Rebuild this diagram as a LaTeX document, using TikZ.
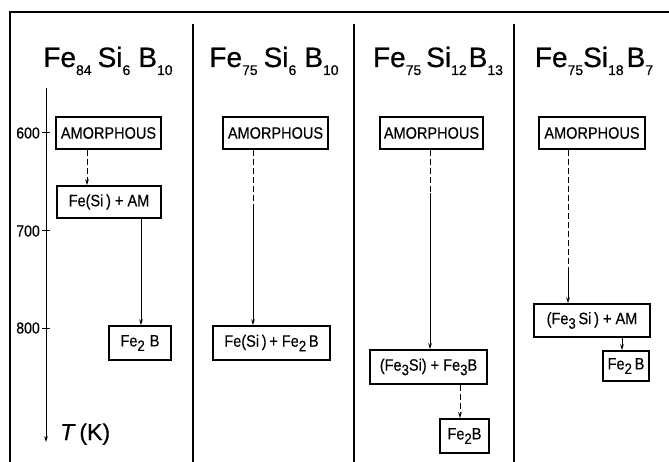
\documentclass[tikz,border=0pt]{standalone}
\usepackage{fontspec}
\setmainfont{Liberation Sans}
\newfontfamily\condf[FakeStretch=0.88,FakeBold=0.4]{Liberation Sans}
\newfontfamily\titlef[FakeBold=0.6]{Liberation Sans}
\usetikzlibrary{arrows.meta}
\tikzset{
 box/.style={draw, line width=1.6pt, inner sep=0pt, font=\condf\fontsize{16.5}{17}\selectfont},
 conn/.style={line width=1pt},
 arr/.style={-{Stealth[length=6pt,width=3.6pt]}},
 dsh/.style={dash pattern=on 6pt off 3pt},
 frame/.style={line width=1.6pt},
 title/.style={font=\titlef\fontsize{28}{28}\selectfont, anchor=base, inner sep=0pt},
 lbl/.style={font=\condf\fontsize{16}{16}\selectfont, anchor=east, inner sep=0pt},
}
\newcommand\tsub[1]{\raisebox{-8pt}{\fontsize{14}{14}\selectfont #1}}
\newcommand\bsub[1]{\raisebox{-4.5pt}{\fontsize{15}{15}\selectfont #1}}
\begin{document}
\begin{tikzpicture}[x=1pt,y=-1pt]
\useasboundingbox (0,0) rectangle (669,462);
% frame
\draw[frame] (10,462) -- (10,12) -- (669,12);
\draw[frame] (193,24) -- (193,462);
\draw[frame] (354,24) -- (354,462);
\draw[frame] (514,24) -- (514,462);
% titles
\node[title] (t1) at (108,67) {Fe\tsub{84}\hspace{6pt}Si\tsub{6}\hspace{8pt}B\tsub{10}};
\node[title] (t2) at (274,67) {Fe\tsub{75}\hspace{6pt}Si\tsub{6}\hspace{8pt}B\tsub{10}};
\node[title] (t3) at (438,67) {Fe\tsub{75}\hspace{5pt}Si\tsub{12}\hspace{2pt}B\tsub{13}};
\node[title] (t4) at (594,67) {Fe\tsub{75}Si\tsub{18}\hspace{3pt}B\tsub{7}};
% axis
\draw[conn,arr] (46,88) -- (46,442);
\draw[conn] (42,133) -- (50,133);
\draw[conn] (42,231) -- (50,231);
\draw[conn] (42,328) -- (50,328);
\node[lbl] (l600) at (40,133) {600};
\node[lbl] (l700) at (40,231) {700};
\node[lbl] (l800) at (40,328) {800};
\node[font=\titlef\fontsize{23}{23}\selectfont, anchor=base west, inner sep=0pt] (TK) at (60,440) {\textit{T}\,(K)};
% panel 1
\node[box, minimum width=105pt, minimum height=32pt] (A1) at (108.5,133) {AMORPHOUS};
\node[box, minimum width=104pt, minimum height=32pt] (B1) at (109,202) {Fe(Si\,) + AM};
\node[box, minimum width=62pt, minimum height=34pt] (C1) at (140,343) {Fe\bsub{2}\hspace{5pt}B};
\draw[conn,dsh,arr] ([xshift=-21.5pt]A1.south) -- ([xshift=-21.5pt]A1.south |- B1.north);
\draw[conn,arr] ([xshift=32pt]B1.south) -- ([xshift=32pt]B1.south |- C1.north);
% panel 2
\node[box, minimum width=105pt, minimum height=32pt] (A2) at (275.5,133) {AMORPHOUS};
\node[box, minimum width=117pt, minimum height=34pt] (C2) at (271.5,343) {Fe(Si\,)\,+ Fe\bsub{2}\,B};
\coordinate (m2) at ([xshift=-22.5pt,yshift=-56pt]A2.south);
\draw[conn,dsh] ([xshift=-22.5pt]A2.south) -- (m2);
\draw[conn,arr] (m2) -- (m2 |- C2.north);
% panel 3
\node[box, minimum width=103pt, minimum height=32pt] (A3) at (431.5,133) {AMORPHOUS};
\node[box, minimum width=117pt, minimum height=34pt] (B3) at (428.5,367) {(Fe\bsub{3}Si) + Fe\bsub{3}B};
\node[box, minimum width=49pt, minimum height=34pt] (C3) at (464.5,436) {Fe\bsub{2}B};
\coordinate (m3) at ([xshift=-1.5pt,yshift=-43pt]A3.south);
\draw[conn,dsh] ([xshift=-1.5pt]A3.south) -- (m3);
\draw[conn,arr] (m3) -- (m3 |- B3.north);
\draw[conn,dsh,arr] ([xshift=31.5pt]B3.south) -- ([xshift=31.5pt]B3.south |- C3.north);
% panel 4
\node[box, minimum width=106pt, minimum height=32pt] (A4) at (592,133) {AMORPHOUS};
\node[box, minimum width=116pt, minimum height=33pt] (B4) at (592,320.5) {(Fe\bsub{3}\,Si\,) + AM};
\node[box, minimum width=46pt, minimum height=30pt] (C4) at (626,366) {Fe\bsub{2}\,B};
\coordinate (m4) at ([xshift=-24pt,yshift=-118pt]A4.south);
\draw[conn,dsh] ([xshift=-24pt]A4.south) -- (m4);
\draw[conn,arr] (m4) -- (m4 |- B4.north);
\draw[conn,arr] ([xshift=30pt]B4.south) -- ([xshift=30pt]B4.south |- C4.north);
\end{tikzpicture}
\end{document}
